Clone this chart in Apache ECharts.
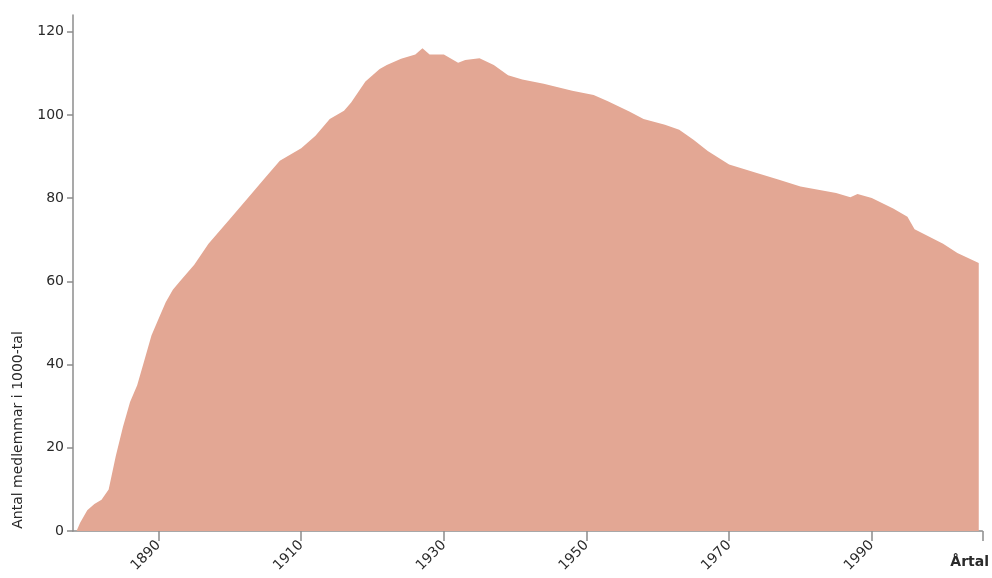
<!DOCTYPE html>
<html>
<head>
<meta charset="utf-8">
<script src="https://cdn.jsdelivr.net/npm/echarts@6/dist/echarts.min.js"></script>
<style>
  html, body { margin: 0; padding: 0; background: #fff; }
  #chart { width: 992px; height: 578px; }
</style>
</head>
<body>
<div id="chart"></div>
<script>
  // medlemmar per år (i 1000-tal)
  var years = [1878.5, 1879, 1880, 1881, 1882, 1883, 1884, 1885, 1886, 1887, 1888, 1889, 1890,
    1891, 1892, 1893, 1895, 1897, 1900, 1903, 1905, 1907, 1910, 1912, 1914, 1916, 1917,
    1919, 1921, 1922, 1924, 1926, 1927, 1928, 1930, 1932, 1933, 1935, 1937, 1939, 1941,
    1944, 1948, 1951, 1953, 1956, 1958, 1961, 1963, 1965, 1967, 1970, 1974, 1977, 1980,
    1985, 1987, 1988, 1990, 1993, 1995, 1996, 1998, 2000, 2002, 2005]
  var members = [0, 2, 5, 6.5, 7.5, 10, 18, 25, 31, 35, 41, 47, 51,
    55, 58, 60, 64, 69, 75, 81, 85, 89, 92, 95, 99, 101, 103,
    108, 111, 112, 113.5, 114.5, 116, 114.5, 114.5, 112.5, 113.2, 113.6, 112, 109.5, 108.5,
    107.5, 105.8, 104.8, 103.3, 100.8, 99, 97.6, 96.4, 94, 91.3, 88.1, 86, 84.4, 82.8,
    81.2, 80.2, 81, 80, 77.5, 75.5, 72.5, 70.8, 69, 66.8, 64.4]
  var yTicks = [0, 20, 40, 60, 80, 100, 120]
  var xTicks = [1890, 1910, 1930, 1950, 1970, 1990]

  var chart = echarts.init(document.getElementById('chart'))

  var seriesData = years.map(function (y, i) { return [y, members[i]] })

  var axisColor = '#8c8c8c'
  var textColor = '#2a2a2a'
  var font = 'DejaVu Sans'

  chart.setOption({
    animation: false,
    backgroundColor: '#fff',
    grid: {
      left: 73,
      right: 5,
      top: 15,
      bottom: 47
    },
    xAxis: {
      type: 'value',
      min: 1878,
      max: 2005.5,
      name: 'Årtal',
      nameLocation: 'end',
      nameGap: -32,
      nameTextStyle: {
        color: textColor,
        fontFamily: font,
        fontWeight: 'bold',
        fontSize: 14,
        verticalAlign: 'top',
        padding: [24, 0, 0, 0]
      },
      splitLine: { show: false },
      axisLine: { lineStyle: { color: axisColor, width: 1.5 } },
      axisTick: {
        length: 10,
        lineStyle: { color: axisColor, width: 1.5 },
        customValues: xTicks.concat([2005.5])
      },
      axisLabel: {
        rotate: 45,
        color: textColor,
        fontFamily: font,
        fontSize: 14,
        margin: 12,
        customValues: xTicks,
        formatter: function (v) { return String(v) }
      }
    },
    yAxis: {
      type: 'value',
      min: 0,
      max: 124,
      splitLine: { show: false },
      axisLine: { show: true, lineStyle: { color: axisColor, width: 1.5 } },
      axisTick: {
        show: true,
        length: 6,
        lineStyle: { color: axisColor, width: 1.5 },
        customValues: yTicks
      },
      axisLabel: {
        color: textColor,
        fontFamily: font,
        fontSize: 14,
        margin: 9,
        customValues: yTicks
      }
    },
    graphic: [{
      type: 'text',
      x: 18,
      y: 430,
      rotation: Math.PI / 2,
      style: {
        text: 'Antal medlemmar i 1000-tal',
        fill: textColor,
        font: '14px "DejaVu Sans"',
        align: 'center',
        verticalAlign: 'middle'
      }
    }],
    series: [{
      type: 'line',
      data: seriesData,
      showSymbol: false,
      lineStyle: { width: 0 },
      areaStyle: { color: '#e3a794', opacity: 1 },
      z: 1
    }]
  })
</script>
</body>
</html>
